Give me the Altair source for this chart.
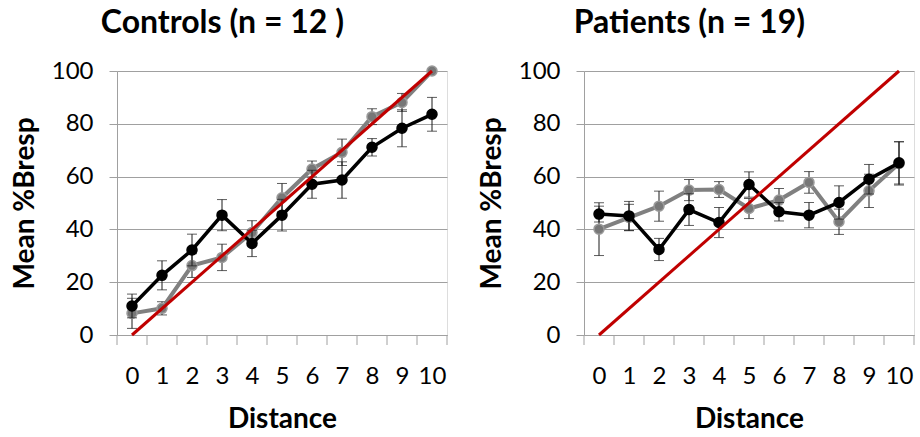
import altair as alt
import pandas as pd

distance = list(range(11))

ctrl_black = [11.0, 22.6, 32.2, 45.4, 34.7, 45.4, 57.1, 58.7, 71.1, 78.3, 83.6]
ctrl_black_err = [4.5, 5.5, 6.0, 5.9, 5.0, 6.0, 5.3, 6.9, 3.3, 7.0, 6.4]
ctrl_gray = [8.2, 10.1, 26.3, 29.4, 38.8, 52.0, 62.9, 69.2, 82.7, 88.1, 100.0]
ctrl_gray_err = [5.7, 2.5, 4.5, 5.0, 4.5, 5.4, 3.0, 5.0, 3.0, 3.4, 0.0]

pat_black = [45.8, 45.1, 32.4, 47.5, 42.6, 57.0, 46.7, 45.4, 50.2, 59.0, 65.2]
pat_black_err = [3.0, 5.5, 4.2, 6.0, 5.7, 4.8, 3.5, 4.8, 6.3, 5.6, 8.0]
pat_gray = [40.1, 44.5, 48.8, 54.9, 55.1, 47.9, 51.1, 57.8, 42.9, 54.6, 65.0]
pat_gray_err = [10.0, 5.0, 5.7, 4.0, 3.0, 3.8, 4.4, 4.1, 4.8, 6.3, 8.2]

identity_x = [0, 10]
identity_y = [0, 100]

y_ticks = [0, 20, 40, 60, 80, 100]
x_boundaries = [i - 0.5 for i in range(12)]

FONT = "Lato"
W, H = 330, 264


def series_df(vals, errs):
    return pd.DataFrame({
        "d": distance,
        "v": vals,
        "lo": [v - e for v, e in zip(vals, errs)],
        "hi": [v + e for v, e in zip(vals, errs)],
    })


def panel(title, black, black_err, gray, gray_err):
    xs = alt.Scale(domain=[-0.5, 10.5], nice=False, zero=False)
    ys = alt.Scale(domain=[0, 100], nice=False)
    xaxis = alt.Axis(values=distance, ticks=False, grid=False, domainColor="#a0a0a0",
                     labelFontSize=24, labelFont=FONT, labelColor="#000", labelPadding=29,
                     title="Distance", titleFont=FONT, titleFontSize=28, titleFontWeight="bold",
                     titleColor="#000", titlePadding=17, labelFlush=False)
    yaxis = alt.Axis(values=y_ticks, grid=True, gridColor="#a0a0a0", domainColor="#a0a0a0",
                     tickColor="#a0a0a0", tickSize=8, labelFontSize=24, labelFont=FONT,
                     labelColor="#000", labelPadding=16,
                     title="Mean %Bresp", titleFont=FONT, titleFontSize=28,
                     titleFontWeight="bold", titleColor="#000", titlePadding=12)

    gdf = series_df(gray, gray_err)
    bdf = series_df(black, black_err)

    base_x = alt.X("d:Q", scale=xs, axis=xaxis)
    layers = []
    # tick marks between categories
    layers.append(alt.Chart(pd.DataFrame({"b": x_boundaries})).mark_rule(color="#a0a0a0", strokeWidth=1).encode(
        x=alt.X("b:Q", scale=xs, axis=xaxis), y=alt.value(H), y2=alt.value(H + 10)))

    for df, color, lw, fill, stroke in [(gdf, "#808080", 4, "#777777", "#9a9a9a"),
                                        (bdf, "#000000", 3.5, "#000000", "#000000")]:
        b = alt.Chart(df)
        layers.append(b.mark_rule(color="#1a1a1a", strokeWidth=1).encode(
            x=base_x, y=alt.Y("lo:Q", scale=ys, axis=yaxis), y2="hi:Q"))
        layers.append(b.mark_tick(color="#1a1a1a", orient="horizontal", size=10, thickness=1).encode(
            x=base_x, y=alt.Y("lo:Q", scale=ys, axis=yaxis)))
        layers.append(b.mark_tick(color="#1a1a1a", orient="horizontal", size=10, thickness=1).encode(
            x=base_x, y=alt.Y("hi:Q", scale=ys, axis=yaxis)))
        layers.append(b.mark_line(color=color, strokeWidth=lw).encode(
            x=base_x, y=alt.Y("v:Q", scale=ys, axis=yaxis)))
        layers.append(b.mark_point(filled=True, fill=fill, stroke=stroke, strokeWidth=1.5,
                                   size=100, opacity=1, shape="circle").encode(
            x=base_x, y=alt.Y("v:Q", scale=ys, axis=yaxis)))

    layers.append(alt.Chart(pd.DataFrame({"d": identity_x, "v": identity_y})).mark_line(
        color="#c00000", strokeWidth=3).encode(x=base_x, y=alt.Y("v:Q", scale=ys, axis=yaxis)))

    return alt.layer(*layers).properties(
        width=W, height=H,
        title=alt.TitleParams(title, font=FONT, fontSize=32, fontWeight="bold", color="#000",
                              anchor="middle", frame="bounds", offset=19, dx=-7))


left = panel("Controls (n = 12 )", ctrl_black, ctrl_black_err, ctrl_gray, ctrl_gray_err)
right = panel("Patients (n = 19)", pat_black, pat_black_err, pat_gray, pat_gray_err)

chart = alt.hconcat(left, right, spacing=29).properties(
    padding={"left": 10, "top": 6, "right": 5, "bottom": 5}
).configure_view(stroke=None).configure(background="white")

chart.save("out.html", embed_options={"renderer": "svg", "actions": False})
